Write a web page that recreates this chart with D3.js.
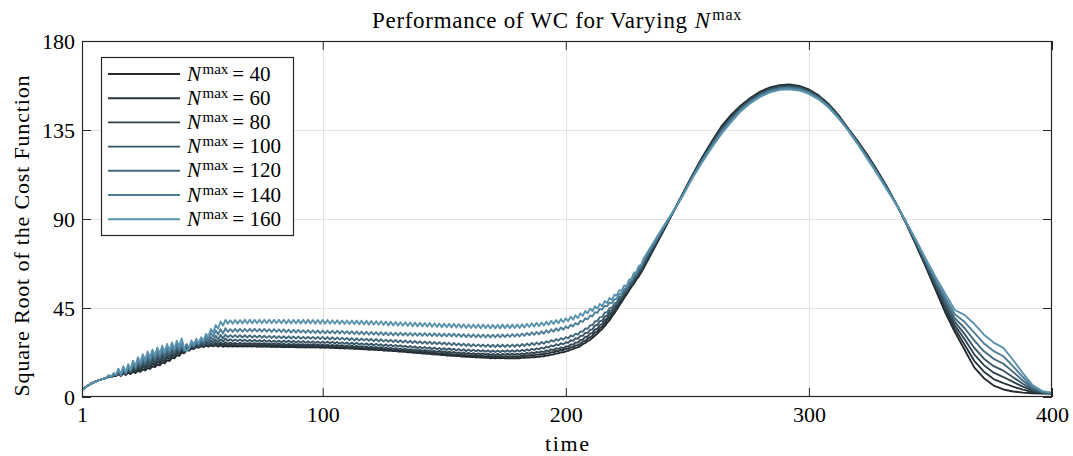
<!DOCTYPE html>
<html><head><meta charset="utf-8">
<script src="https://cdn.jsdelivr.net/npm/d3@7"></script>
<style>
body{margin:0;background:#fff}
svg{display:block}
text{font-family:"Liberation Serif","DejaVu Serif",serif;fill:#000}
</style>
</head><body>
<svg id="chart" width="1073" height="456"></svg>
<script>
// x values: unit steps up to 232, then every 4 time units
const time = [...d3.range(1, 233), ...d3.range(236, 401, 4)];
const seriesLabels = ["40", "60", "80", "100", "120", "140", "160"];
const seriesColors = ["#242b30", "#28353d", "#2f434e", "#375566", "#42697c", "#4e7e96", "#5b93ae"];
const xTicks = [1, 100, 200, 300, 400];
const yTicks = [0, 45, 90, 135, 180];

const n40 = [3.5,4.5,5.4,6.2,6.9,7.5,8.0,8.5,8.9,9.3,9.7,
10.2,10.1,10.7,10.6,11.5,10.7,11.9,11.1,12.3,11.6,12.8,12.1,13.3,12.7,14.0,13.4,14.7,14.2,15.6,15.1,16.5,16.0,17.5,17.0,18.5,18.2,19.8,19.5,21.1,20.8,22.5,22.1,23.8,23.4,24.5,24.3,25.3,24.9,25.7,25.2,26.0,25.5,26.1,25.6,26.2,25.5,26.1,25.4,25.9,
25.5,25.7,25.5,25.7,25.5,25.7,25.5,25.7,25.5,25.7,
25.5,25.7,25.4,25.6,25.4,25.6,25.4,25.6,25.3,25.5,
25.3,25.5,25.2,25.4,25.2,25.4,25.2,25.4,25.1,25.3,
25.1,25.3,25.0,25.2,25.0,25.2,25.0,25.2,24.9,25.1,
24.9,25.1,24.8,25.0,24.7,24.9,24.6,24.8,24.5,24.7,
24.5,24.6,24.3,24.5,24.2,24.3,24.1,24.2,23.9,24.1,
23.8,24.0,23.7,23.8,23.5,23.6,23.3,23.5,23.2,23.3,
23.0,23.1,22.8,23.0,22.6,22.7,22.4,22.5,22.2,22.3,
22.0,22.1,21.8,22.0,21.6,21.7,21.4,21.5,21.2,21.3,
21.0,21.1,20.8,21.0,20.7,20.8,20.5,20.6,20.3,20.4,
20.2,20.3,20.0,20.2,19.9,20.1,19.8,19.9,19.6,19.8,
19.6,19.8,19.6,19.8,19.5,19.7,19.5,19.7,19.5,19.7,
19.6,19.9,19.8,20.1,19.9,20.2,20.1,20.4,20.3,20.6,
20.6,21.0,21.0,21.4,21.5,22.0,22.1,22.6,22.6,23.1,
23.3,24.0,24.2,24.9,25.1,25.8,26.7,27.3,28.3,28.9,
29.9,31.1,32.0,33.4,34.4,35.8,37.5,38.8,40.7,42.4,
44.2,46.3,48.0,50.1,51.9,53.7,55.7,57.3,59.3,60.9,
62.9,65.1,
74.3,83.5,93.0,102.5,112.0,121.0,129.0,136.8,142.6,147.4,151.3,154.4,156.5,157.7,158.0,157.3,155.5,152.5,148.3,142.8,136.0,129.5,122.5,114.8,106.5,97.5,87.8,77.0,66.0,54.5,43.0,33.0,24.0,15.0,9.5,5.8,3.8,2.8,2.2,1.9,1.8,1.8];

const n60 = [3.5,4.5,5.4,6.2,6.9,7.5,8.0,8.5,8.9,9.3,9.7,
10.3,10.1,10.9,10.7,12.0,10.8,12.5,11.4,13.0,12.0,13.7,12.7,14.4,13.4,15.3,14.3,16.1,15.2,17.0,16.1,17.9,17.0,18.9,18.0,19.9,19.1,21.1,20.3,22.3,21.5,23.4,22.6,24.5,23.8,25.0,24.6,25.8,25.2,26.1,25.5,26.4,25.7,26.5,25.8,26.6,25.8,26.7,25.9,26.7,
26.1,26.5,26.1,26.5,26.0,26.4,26.0,26.4,26.0,26.4,
26.0,26.4,25.9,26.3,25.9,26.3,25.9,26.3,25.8,26.2,
25.8,26.2,25.7,26.1,25.7,26.1,25.7,26.1,25.6,26.0,
25.6,26.0,25.5,25.9,25.5,25.9,25.5,25.9,25.4,25.8,
25.3,25.7,25.3,25.6,25.2,25.5,25.1,25.4,25.0,25.3,
24.8,25.2,24.7,25.1,24.6,24.9,24.5,24.8,24.4,24.7,
24.2,24.5,24.0,24.4,23.9,24.2,23.7,24.0,23.6,23.9,
23.4,23.7,23.2,23.5,23.0,23.3,22.8,23.1,22.7,23.0,
22.5,22.8,22.3,22.6,22.1,22.4,21.9,22.2,21.8,22.1,
21.6,21.9,21.4,21.7,21.2,21.5,21.0,21.4,20.9,21.2,
20.8,21.1,20.7,21.0,20.6,20.9,20.4,20.8,20.3,20.7,
20.3,20.7,20.3,20.7,20.3,20.7,20.3,20.7,20.3,20.7,
20.4,20.9,20.6,21.1,20.8,21.3,21.0,21.5,21.3,21.8,
21.6,22.2,22.0,22.7,22.6,23.3,23.2,23.9,23.7,24.4,
24.4,25.2,25.3,26.1,26.2,26.9,28.0,28.4,29.6,30.1,
31.1,32.5,33.2,34.8,35.6,37.1,39.0,40.1,42.1,43.3,
45.1,47.4,48.8,51.1,52.5,54.3,56.5,57.9,60.1,61.5,
63.5,65.9,
74.9,83.9,93.1,102.4,111.8,120.6,128.6,136.2,142.1,147.0,150.9,154.0,156.1,157.3,157.6,157.0,155.2,152.2,148.0,142.6,135.9,129.3,122.2,114.5,106.3,97.5,87.9,77.4,66.6,55.5,44.4,34.7,26.6,18.3,12.8,9.1,7.0,5.2,3.7,2.5,2.0,1.8];

const n80 = [3.5,4.5,5.4,6.2,6.9,7.5,8.0,8.5,8.9,9.3,9.7,
10.4,10.2,11.1,10.9,12.4,10.9,13.1,11.6,13.7,12.4,14.6,13.3,15.5,14.2,16.5,15.2,17.5,16.2,18.4,17.1,19.3,18.0,20.3,19.0,21.2,20.0,22.3,21.1,23.4,22.1,24.3,23.0,25.2,24.2,25.6,25.0,26.3,25.5,26.7,25.8,27.0,26.1,27.2,26.3,27.4,26.5,27.6,26.7,27.7,
26.9,27.5,26.9,27.4,26.8,27.4,26.8,27.3,26.7,27.3,
26.7,27.3,26.6,27.2,26.6,27.2,26.6,27.1,26.5,27.1,
26.5,27.1,26.4,27.0,26.3,26.9,26.3,26.9,26.2,26.8,
26.2,26.8,26.1,26.7,26.1,26.7,26.0,26.6,26.0,26.6,
26.0,26.5,25.9,26.4,25.8,26.3,25.7,26.2,25.5,26.1,
25.4,26.0,25.3,25.8,25.2,25.7,25.0,25.6,24.9,25.5,
24.8,25.3,24.6,25.2,24.5,25.0,24.3,24.9,24.2,24.7,
24.0,24.5,23.9,24.4,23.7,24.2,23.5,24.1,23.4,23.9,
23.2,23.7,23.1,23.6,22.9,23.4,22.7,23.3,22.6,23.1,
22.4,22.9,22.3,22.8,22.1,22.6,21.9,22.5,21.8,22.3,
21.7,22.2,21.6,22.1,21.5,22.0,21.4,21.9,21.2,21.8,
21.2,21.8,21.2,21.8,21.3,21.9,21.3,21.9,21.3,21.9,
21.4,22.1,21.6,22.3,21.8,22.6,22.1,22.8,22.4,23.1,
22.7,23.5,23.2,24.1,23.7,24.6,24.3,25.1,24.7,25.6,
25.5,26.6,26.5,27.6,27.5,28.8,29.0,30.4,30.6,32.0,
32.4,34.1,34.6,36.3,36.9,38.9,39.8,41.9,42.8,44.9,
46.0,48.4,49.5,51.9,53.0,55.4,56.6,59.1,60.3,62.7,
64.1,66.7,
75.4,84.3,93.2,102.2,111.6,120.3,128.1,135.7,141.5,146.5,150.5,153.6,155.8,157.0,157.3,156.6,154.8,151.9,147.8,142.3,135.7,129.1,121.9,114.3,106.1,97.4,88.0,77.8,67.2,56.5,45.9,36.3,29.3,21.6,16.1,12.3,10.1,7.6,5.2,3.1,2.2,1.9];

const n100 = [3.5,4.5,5.4,6.2,6.9,7.5,8.0,8.5,8.9,9.3,9.7,
10.6,10.2,11.4,11.0,12.9,11.0,13.7,11.8,14.5,12.7,15.6,13.9,16.7,15.0,17.8,16.0,18.9,17.0,19.8,18.0,20.8,19.0,21.7,19.9,22.7,20.9,23.7,21.9,24.8,22.8,25.4,23.4,26.0,24.5,26.2,25.2,26.9,25.8,27.5,26.3,28.0,26.8,28.5,27.3,28.9,27.7,29.2,28.0,29.5,
28.4,29.2,28.3,29.1,28.3,29.1,28.2,29.0,28.1,28.9,
28.1,28.9,28.0,28.8,28.0,28.8,27.9,28.7,27.8,28.6,
27.8,28.6,27.7,28.5,27.7,28.5,27.6,28.4,27.5,28.3,
27.5,28.3,27.4,28.2,27.4,28.2,27.3,28.1,27.3,28.1,
27.3,28.0,27.2,27.9,27.1,27.8,27.0,27.7,26.9,27.6,
26.7,27.5,26.6,27.4,26.5,27.2,26.4,27.1,26.3,27.0,
26.1,26.9,26.0,26.7,25.8,26.6,25.7,26.4,25.6,26.3,
25.4,26.1,25.3,25.9,25.1,25.8,24.9,25.6,24.7,25.4,
24.5,25.3,24.4,25.1,24.2,25.0,24.1,24.8,23.9,24.7,
23.8,24.6,23.7,24.4,23.5,24.3,23.4,24.1,23.2,24.0,
23.2,23.9,23.1,23.8,23.0,23.7,22.9,23.6,22.7,23.5,
22.7,23.5,22.7,23.5,22.8,23.6,22.8,23.6,22.9,23.7,
23.0,23.9,23.2,24.1,23.5,24.4,23.8,24.6,24.1,25.0,
24.4,25.5,25.0,26.1,25.6,26.7,26.1,27.2,26.6,27.7,
27.4,28.7,28.4,29.7,29.4,30.9,30.9,32.4,32.4,34.0,
34.2,36.1,36.4,38.3,38.6,40.7,41.2,43.4,43.9,46.0,
46.9,49.4,50.2,52.7,53.6,56.2,57.2,59.9,60.9,63.5,
64.7,67.5,
76.0,84.6,93.2,102.1,111.3,119.9,127.7,135.1,141.0,146.1,150.1,153.2,155.4,156.6,156.9,156.3,154.5,151.6,147.5,142.1,135.6,128.8,121.6,114.0,105.8,97.4,88.1,78.1,67.8,57.4,47.3,38.0,31.9,24.9,19.4,15.6,13.3,10.0,6.7,3.7,2.3,1.9];

const n120 = [3.5,4.5,5.4,6.2,6.9,7.5,8.0,8.5,8.9,9.3,9.7,
10.7,10.2,11.6,11.1,13.4,11.1,14.3,12.0,15.2,13.1,16.5,14.4,17.9,15.7,19.1,16.9,20.3,18.0,21.3,18.9,22.2,19.9,23.2,20.8,24.1,21.8,25.0,22.7,25.9,23.3,26.3,23.7,26.7,24.7,27.1,25.4,27.8,26.2,28.7,27.1,29.5,27.9,30.3,28.6,31.0,29.2,31.4,29.6,31.6,
30.2,31.3,30.2,31.3,30.2,31.2,30.1,31.2,30.1,31.2,
30.0,31.1,30.0,31.1,29.9,31.0,29.9,30.9,29.8,30.9,
29.7,30.8,29.7,30.7,29.6,30.7,29.6,30.6,29.5,30.6,
29.4,30.5,29.4,30.5,29.4,30.4,29.3,30.4,29.3,30.4,
29.2,30.3,29.1,30.2,29.0,30.1,29.0,30.0,28.9,29.9,
28.7,29.8,28.6,29.7,28.5,29.6,28.5,29.5,28.4,29.4,
28.2,29.3,28.1,29.2,28.0,29.0,27.9,28.9,27.8,28.8,
27.6,28.7,27.5,28.6,27.4,28.4,27.3,28.3,27.2,28.2,
27.0,28.1,26.9,28.0,26.8,27.8,26.7,27.7,26.6,27.6,
26.4,27.4,26.2,27.3,26.1,27.1,25.9,27.0,25.8,26.8,
25.6,26.7,25.6,26.6,25.5,26.5,25.4,26.5,25.3,26.4,
25.2,26.4,25.3,26.4,25.3,26.5,25.4,26.5,25.4,26.6,
25.5,26.8,25.8,27.0,26.0,27.3,26.3,27.5,26.5,27.8,
26.9,28.2,27.5,28.8,28.0,29.3,28.5,29.8,29.0,30.3,
29.7,31.1,30.6,32.0,31.5,33.2,33.0,34.7,34.5,36.3,
36.3,38.3,38.4,40.4,40.5,42.7,42.8,45.0,45.1,47.3,
47.9,50.5,51.1,53.7,54.3,57.1,57.9,60.8,61.6,64.4,
65.4,68.4,
76.6,85.1,93.3,101.9,111.1,119.5,127.1,134.4,140.4,145.6,149.6,152.8,155.0,156.2,156.5,155.9,154.1,151.3,147.2,141.8,135.4,128.6,121.3,113.7,105.6,97.4,88.2,78.6,68.5,58.5,48.9,39.8,34.9,28.6,23.1,19.3,16.8,12.7,8.3,4.4,2.5,1.9];

const n140 = [3.5,4.5,5.4,6.2,6.9,7.5,8.0,8.5,8.9,9.3,9.7,
10.9,10.2,11.9,11.2,13.9,11.2,14.9,12.2,15.9,13.5,17.5,15.0,19.0,16.5,20.3,17.8,21.6,18.9,22.6,19.9,23.6,20.9,24.5,21.8,25.4,22.7,26.3,23.6,27.2,23.9,26.9,23.6,26.6,24.4,27.5,25.7,28.7,26.9,29.9,28.0,31.0,29.3,32.4,30.6,33.7,31.6,34.3,32.1,34.8,
32.9,34.3,32.9,34.4,33.0,34.4,33.0,34.4,33.1,34.5,
33.1,34.5,33.1,34.4,33.0,34.4,33.0,34.3,32.9,34.3,
32.9,34.2,32.8,34.2,32.7,34.1,32.6,34.0,32.5,33.9,
32.5,33.8,32.4,33.8,32.4,33.7,32.3,33.7,32.2,33.6,
32.2,33.6,32.2,33.5,32.1,33.5,32.1,33.4,32.0,33.3,
31.9,33.3,31.8,33.2,31.7,33.1,31.6,33.0,31.5,32.9,
31.5,32.8,31.4,32.8,31.3,32.7,31.2,32.6,31.1,32.5,
31.1,32.5,31.1,32.4,31.0,32.4,31.0,32.3,30.9,32.3,
30.9,32.3,30.9,32.2,30.8,32.2,30.8,32.1,30.7,32.1,
30.7,32.0,30.6,32.0,30.5,31.9,30.4,31.8,30.3,31.7,
30.3,31.7,30.2,31.6,30.2,31.6,30.1,31.5,30.1,31.5,
30.1,31.6,30.2,31.6,30.3,31.7,30.4,31.8,30.5,31.9,
30.6,32.1,30.9,32.4,31.2,32.7,31.4,32.9,31.7,33.2,
32.0,33.7,32.5,34.2,33.0,34.7,33.5,35.2,34.0,35.7,
34.8,36.5,35.7,37.4,36.6,38.5,38.0,39.8,39.3,41.2,
40.8,42.9,42.5,44.6,44.2,46.1,45.9,47.7,47.5,49.3,
49.7,52.0,52.4,54.7,55.1,57.9,58.7,61.6,62.4,65.2,
66.2,69.2,
77.3,85.5,93.4,101.7,110.8,119.0,126.6,133.8,139.7,145.1,149.1,152.3,154.5,155.8,156.1,155.5,153.7,150.9,146.9,141.5,135.2,128.3,120.9,113.4,105.3,97.3,88.4,79.0,69.2,59.7,50.6,41.8,38.0,32.6,27.1,23.2,20.6,15.5,10.1,5.2,2.8,2.0];

const n160 = [3.5,4.5,5.4,6.2,6.9,7.5,8.0,8.5,8.9,9.3,9.7,
11.0,10.2,12.1,11.3,14.3,11.3,15.5,12.5,16.6,13.9,18.4,15.7,20.1,17.3,21.6,18.7,23.0,19.9,24.0,20.9,25.0,21.9,25.9,22.8,26.8,23.6,27.6,24.4,28.4,25.6,29.6,25.0,23.0,24.6,28.6,26.6,29.4,27.2,30.2,28.3,31.9,30.4,34.4,32.6,36.4,34.5,38.2,36.1,39.0,
37.0,38.8,37.0,38.9,37.1,38.9,37.2,39.0,37.2,39.1,
37.3,39.1,37.3,39.1,37.3,39.1,37.3,39.1,37.3,39.1,
37.3,39.1,37.3,39.1,37.2,39.0,37.2,39.0,37.2,39.0,
37.2,39.0,37.2,39.0,37.2,38.9,37.1,38.9,37.1,38.9,
37.1,38.9,37.0,38.8,37.0,38.8,36.9,38.7,36.9,38.7,
36.9,38.7,36.8,38.6,36.8,38.6,36.7,38.5,36.6,38.4,
36.5,38.3,36.5,38.3,36.4,38.2,36.2,38.0,36.2,37.9,
36.1,37.8,36.0,37.8,35.9,37.7,35.8,37.6,35.7,37.5,
35.7,37.4,35.6,37.4,35.5,37.3,35.4,37.2,35.3,37.1,
35.3,37.0,35.2,37.0,35.1,36.9,35.0,36.8,34.9,36.7,
34.9,36.7,34.9,36.6,34.8,36.6,34.8,36.5,34.7,36.5,
34.7,36.5,34.7,36.6,34.8,36.6,34.8,36.6,34.9,36.7,
34.9,36.8,35.1,37.0,35.4,37.3,35.6,37.5,35.8,37.7,
36.1,38.1,36.5,38.5,36.9,38.9,37.3,39.4,37.8,39.8,
38.4,40.6,39.1,41.3,39.9,42.3,41.1,43.5,42.3,44.7,
43.5,45.9,44.7,47.1,45.9,48.5,47.5,50.1,49.1,51.7,
51.2,54.0,53.6,56.4,56.0,59.3,59.6,62.8,63.1,66.2,
66.9,70.0,
78.0,86.0,93.5,101.5,110.5,118.5,126.0,133.0,139.0,144.5,148.6,151.8,154.0,155.3,155.6,155.0,153.3,150.5,146.5,141.2,135.0,128.0,120.5,113.0,105.0,97.3,88.5,79.5,70.0,61.0,52.5,44.0,41.5,37.0,31.5,27.5,24.8,18.7,12.1,6.0,3.0,2.0];

const seriesValues = [n40, n60, n80, n100, n120, n140, n160];

const svg = d3.select("#chart");
const L = 82, R = 1052, T = 41, B = 397;
const axisColor = "#262626";
const x = d3.scaleLinear().domain([1, 400]).range([L, R]);
const y = d3.scaleLinear().domain([0, 180]).range([B, T]);

svg.append("rect").attr("width", 1073).attr("height", 456).attr("fill", "#fff");

// grid
const grid = svg.append("g").attr("stroke", "#e3e3e3").attr("stroke-width", 1);
xTicks.slice(1, -1).forEach(t => grid.append("line")
  .attr("x1", Math.round(x(t)) + 0.5).attr("x2", Math.round(x(t)) + 0.5).attr("y1", T).attr("y2", B));
yTicks.slice(1, -1).forEach(t => grid.append("line")
  .attr("y1", Math.round(y(t)) + 0.5).attr("y2", Math.round(y(t)) + 0.5).attr("x1", L).attr("x2", R));

// lines
svg.append("clipPath").attr("id", "clip").append("rect")
  .attr("x", L).attr("y", T).attr("width", R - L).attr("height", B - T);
const line = d3.line().x(d => x(d[0])).y(d => y(d[1]));
const lg = svg.append("g").attr("clip-path", "url(#clip)");
seriesValues.forEach((vals, i) => {
  const n = Math.min(vals.length, time.length);
  if (vals.length !== time.length) console.warn("length mismatch", seriesLabels[i], vals.length, time.length);
  const pts = d3.range(n).map(k => [time[k], vals[k]]);
  lg.append("path").datum(pts).attr("d", line)
    .attr("fill", "none").attr("stroke", seriesColors[i])
    .attr("stroke-width", 1.9).attr("stroke-linejoin", "round");
});

// axes
function styleAxis(g) {
  g.select(".domain").remove();
  g.selectAll(".tick line").attr("stroke", axisColor).attr("stroke-width", 1);
  g.selectAll(".tick text").attr("font-size", 22).attr("fill", "#000")
    .attr("font-family", "'Liberation Serif', serif");
}
svg.append("g").attr("transform", `translate(0,${B})`)
  .call(d3.axisBottom(x).tickValues(xTicks).tickFormat(d3.format("d")).tickSizeInner(-9).tickSizeOuter(0).tickPadding(9))
  .call(styleAxis);
svg.append("g").attr("transform", `translate(0,${T})`)
  .call(d3.axisTop(x).tickValues(xTicks).tickFormat("").tickSizeInner(-9).tickSizeOuter(0))
  .call(styleAxis);
svg.append("g").attr("transform", `translate(${L},0)`)
  .call(d3.axisLeft(y).tickValues(yTicks).tickFormat(d3.format("d")).tickSizeInner(-9).tickSizeOuter(0).tickPadding(7))
  .call(styleAxis);
svg.append("g").attr("transform", `translate(${R},0)`)
  .call(d3.axisRight(y).tickValues(yTicks).tickFormat("").tickSizeInner(-9).tickSizeOuter(0))
  .call(styleAxis);

svg.append("rect").attr("x", L + 0.5).attr("y", T + 0.5).attr("width", R - L - 1).attr("height", B - T - 1)
  .attr("fill", "none").attr("stroke", axisColor).attr("stroke-width", 1.2);

// labels
function nmax(sel, supSize, rise, gap) {
  sel.append("tspan").attr("font-style", "italic").attr("dx", gap).text("N");
  sel.append("tspan").attr("font-size", supSize).attr("dy", -rise).attr("dx", 1.5).text("max");
  return sel;
}
const title = svg.append("text").attr("x", 372).attr("y", 28).attr("font-size", 23)
  .attr("letter-spacing", 0.7);
title.append("tspan").text("Performance of WC for Varying");
nmax(title, 16, 8, 7);

svg.append("text").attr("x", 567).attr("y", 451).attr("text-anchor", "middle").attr("font-size", 22)
  .attr("textLength", 44).attr("lengthAdjust", "spacing").text("time");
svg.append("text").attr("transform", "translate(29,236) rotate(-90)").attr("text-anchor", "middle")
  .attr("font-size", 22).attr("textLength", 321).attr("lengthAdjust", "spacing")
  .text("Square Root of the Cost Function");

// legend
const leg = svg.append("g");
leg.append("rect").attr("x", 101.5).attr("y", 57.5).attr("width", 192).attr("height", 178)
  .attr("fill", "#fff").attr("stroke", axisColor).attr("stroke-width", 1.2);
seriesLabels.forEach((lab, i) => {
  const yy = 74 + i * 24.2;
  leg.append("line").attr("x1", 108).attr("x2", 180).attr("y1", yy).attr("y2", yy)
    .attr("stroke", seriesColors[i]).attr("stroke-width", 1.9);
  const t = leg.append("text").attr("x", 187).attr("y", yy + 6.5).attr("font-size", 21);
  nmax(t, 15, 7, 0);
  t.append("tspan").attr("dy", 7).attr("dx", 4).text("= " + lab);
});
</script>
</body></html>
